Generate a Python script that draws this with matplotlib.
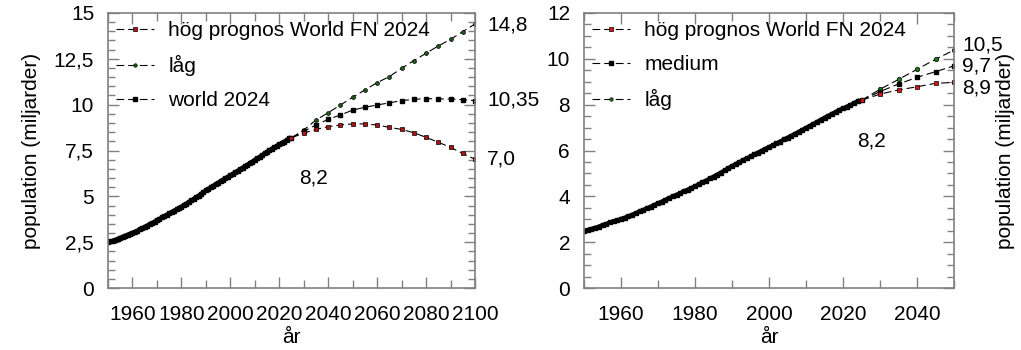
import matplotlib
matplotlib.use("Agg")
import matplotlib.pyplot as plt
from matplotlib.ticker import MultipleLocator, FixedLocator
from matplotlib.lines import Line2D

plt.rcParams['font.family'] = ['Liberation Sans', 'DejaVu Sans']
plt.rcParams['font.size'] = 15

# historical world population (billions), 1950-2024
hist_years = list(range(1950, 2025))
hist_pop = [2.50, 2.54, 2.58, 2.63, 2.68, 2.75, 2.80, 2.86, 2.91, 2.96,
            3.02, 3.07, 3.13, 3.20, 3.27, 3.34, 3.41, 3.48, 3.55, 3.62,
            3.70, 3.77, 3.85, 3.92, 4.00, 4.07, 4.14, 4.22, 4.29, 4.37,
            4.44, 4.52, 4.61, 4.69, 4.78, 4.86, 4.95, 5.04, 5.13, 5.23,
            5.32, 5.41, 5.49, 5.58, 5.66, 5.74, 5.83, 5.91, 5.99, 6.07,
            6.15, 6.23, 6.31, 6.39, 6.48, 6.56, 6.64, 6.73, 6.81, 6.90,
            6.99, 7.07, 7.16, 7.25, 7.34, 7.43, 7.51, 7.60, 7.68, 7.76,
            7.84, 7.91, 7.98, 8.07, 8.16]

# projections to 2100 (left chart)
proj_years = list(range(2025, 2101, 5))
proj_high = [8.19, 8.62, 9.16, 9.56, 9.98, 10.40, 10.80, 11.20, 11.53, 11.98,
             12.40, 12.80, 13.20, 13.56, 13.98, 14.40]
proj_medium = [8.19, 8.55, 8.89, 9.20, 9.44, 9.70, 9.86, 9.98, 10.10, 10.22,
               10.29, 10.33, 10.31, 10.31, 10.27, 10.22]
proj_low = [8.19, 8.45, 8.65, 8.80, 8.89, 8.95, 8.95, 8.89, 8.76, 8.65,
            8.47, 8.22, 7.95, 7.67, 7.34, 7.02]

# projections to 2050 (right chart)
near_years = [2025, 2030, 2035, 2040, 2045, 2050]
near_high = [8.19, 8.67, 9.10, 9.54, 9.98, 10.38]
near_medium = [8.19, 8.57, 8.90, 9.19, 9.44, 9.69]
near_low = [8.19, 8.46, 8.64, 8.78, 8.93, 8.97]

left_end_labels = [(14.35, "14,8"), (10.25, "10,35"), (7.04, "7,0")]
right_end_labels = [(10.6, "10,5"), (9.69, "9,7"), (8.73, "8,9")]

frame = '#808080'
dash = (0, (7, 3.5))

fig = plt.figure(figsize=(10.21, 3.5), dpi=100)
ax1 = fig.add_axes([0.1058, 0.177, 0.3594, 0.786])
ax2 = fig.add_axes([0.572, 0.177, 0.3624, 0.786])


def style(ax):
    for s in ax.spines.values():
        s.set_color(frame)
        s.set_linewidth(1.2)
    ax.tick_params(which='both', direction='in', top=True, right=True,
                   color=frame, width=1)
    ax.tick_params(which='major', length=8)
    ax.tick_params(which='minor', length=5)
    ax.xaxis.set_major_locator(MultipleLocator(20))
    ax.xaxis.set_minor_locator(MultipleLocator(10))
    ax.tick_params(axis='x', which='minor', length=6)
    ax.tick_params(axis='x', which='major', pad=12)
    ax.tick_params(axis='y', which='major', pad=10)
    ax.yaxis.set_minor_locator(MultipleLocator(0.5))
    ax.set_xlabel("år", labelpad=3)


# left chart
ax1.plot(hist_years, hist_pop, color='black', lw=3, marker='s', ms=2.5)
ax1.plot(proj_years, proj_high, color='black', lw=0.8, linestyle=dash,
         marker='o', ms=2.8, mfc='#1a5c1a', mec='black', mew=0.5)
ax1.plot(proj_years, proj_medium, color='black', lw=0.8, linestyle=dash,
         marker='s', ms=3.2, mfc='black', mec='black')
ax1.plot(proj_years, proj_low, color='black', lw=0.8, linestyle=dash,
         marker='s', ms=3.2, mfc='#b01010', mec='black', mew=0.5)
ax1.set_xlim(1950, 2100)
ax1.set_ylim(0, 15)
ax1.yaxis.set_major_locator(FixedLocator([0, 2.5, 5, 7.5, 10, 12.5, 15]))
ax1.set_yticklabels(["0", "2,5", "5", "7,5", "10", "12,5", "15"])
ax1.set_ylabel("population (miljarder)", labelpad=9)
style(ax1)
for y, t in left_end_labels:
    ax1.text(1.033, y / 15, t, transform=ax1.transAxes, va='center',
             ha='left', clip_on=False)
ax1.text(2034, 6.0, "8,2", ha='center', va='center')

h1 = [Line2D([], [], color='black', lw=0.8, linestyle=dash, marker='s', ms=3,
             mfc='#b01010', mec='black', mew=0.5),
      Line2D([], [], color='black', lw=0.8, linestyle=dash, marker='o', ms=2.5,
             mfc='#1a5c1a', mec='black', mew=0.5),
      Line2D([], [], color='black', lw=0.8, linestyle=dash, marker='s', ms=3,
             mfc='black', mec='black')]
ax1.legend(h1, ["hög prognos World FN 2024", "låg", "world 2024"],
           loc='upper left', frameon=False, handlelength=1.8,
           labelspacing=0.72, borderaxespad=0.1, borderpad=0.3,
           handletextpad=0.7)

# right chart
ax2.plot(hist_years, hist_pop, color='black', lw=3, marker='s', ms=2.5)
ax2.plot(near_years, near_high, color='black', lw=0.8, linestyle=dash,
         marker='o', ms=3.2, mfc='#1a7a1a', mec='black', mew=0.5)
ax2.plot(near_years, near_medium, color='black', lw=0.8, linestyle=dash,
         marker='s', ms=3.5, mfc='black', mec='black')
ax2.plot(near_years, near_low, color='black', lw=0.8, linestyle=dash,
         marker='s', ms=3.5, mfc='#e01010', mec='black', mew=0.5)
ax2.set_xlim(1950, 2050)
ax2.set_ylim(0, 12)
ax2.yaxis.set_major_locator(MultipleLocator(2))
ax2.yaxis.set_label_position('right')
ax2.set_ylabel("population (miljarder)", labelpad=30)
style(ax2)
for y, t in right_end_labels:
    ax2.text(1.022, y / 12, t, transform=ax2.transAxes, va='center',
             ha='left', clip_on=False)
ax2.text(2027.6, 6.4, "8,2", ha='center', va='center')

h2 = [Line2D([], [], color='black', lw=0.8, linestyle=dash, marker='s', ms=3,
             mfc='#e01010', mec='black', mew=0.5),
      Line2D([], [], color='black', lw=0.8, linestyle=dash, marker='s', ms=3,
             mfc='black', mec='black'),
      Line2D([], [], color='black', lw=0.8, linestyle=dash, marker='o', ms=2.5,
             mfc='#1a7a1a', mec='black', mew=0.5)]
ax2.legend(h2, ["hög prognos World FN 2024", "medium", "låg"],
           loc='upper left', frameon=False, handlelength=1.8,
           labelspacing=0.72, borderaxespad=0.1, borderpad=0.3,
           handletextpad=0.7)

fig.savefig("out.png", dpi=100)
